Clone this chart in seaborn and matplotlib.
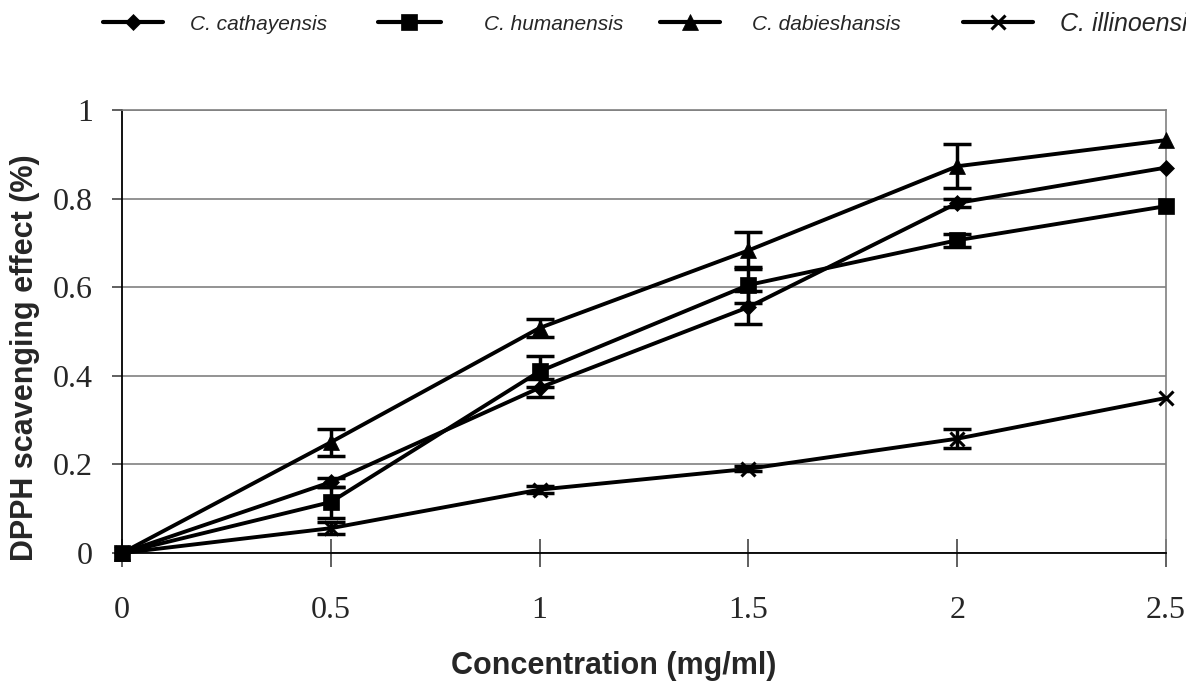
import matplotlib
matplotlib.use("Agg")
import matplotlib.pyplot as plt
from matplotlib.lines import Line2D
import numpy as np
import pandas as pd
import seaborn as sns

# concentration (mg/ml)
conc = [0, 0.5, 1.0, 1.5, 2.0, 2.5]

species = ["C. cathayensis", "C. humanensis", "C. dabieshansis", "C. illinoensi"]

cathayensis = [0, 0.160, 0.373, 0.555, 0.790, 0.870]
humanensis = [0, 0.115, 0.410, 0.605, 0.706, 0.783]
dabieshansis = [0, 0.250, 0.508, 0.683, 0.873, 0.932]
illinoensis = [0, 0.056, 0.143, 0.190, 0.258, 0.350]

cathayensis_err = [0, 0.010, 0.020, 0.037, 0.008, 0]
humanensis_err = [0, 0.035, 0.035, 0.040, 0.015, 0]
dabieshansis_err = [0, 0.030, 0.020, 0.042, 0.050, 0]
illinoensis_err = [0, 0.013, 0.008, 0.006, 0.022, 0]

values = [cathayensis, humanensis, dabieshansis, illinoensis]
errors = [cathayensis_err, humanensis_err, dabieshansis_err, illinoensis_err]

markers = {"C. cathayensis": "D", "C. humanensis": "s",
           "C. dabieshansis": "^", "C. illinoensi": "x"}
msizes = {"C. cathayensis": 8, "C. humanensis": 11,
          "C. dabieshansis": 11, "C. illinoensi": 10}

df = pd.concat([pd.DataFrame({"conc": conc, "effect": v, "err": e, "species": s})
                for s, v, e in zip(species, values, errors)], ignore_index=True)

sns.set_style("white")
plt.rcParams["font.family"] = ["Liberation Sans", "DejaVu Sans"]

fig = plt.figure(figsize=(11.86, 6.83), dpi=100)
ax = fig.add_axes([122 / 1186, 130 / 683, 1044 / 1186, 443 / 683])

# error bars first, lines/markers on top
for s in species:
    d = df[(df.species == s) & (df.err > 0)]
    ax.errorbar(d.conc, d.effect, yerr=d.err, fmt="none", ecolor="black",
                elinewidth=2.5, capsize=10, capthick=2.5, zorder=3)

for s in species:
    d = df[df.species == s]
    sns.lineplot(data=d, x="conc", y="effect", color="black", lw=2.8,
                 marker=markers[s], markersize=msizes[s],
                 markeredgewidth=2.2 if s == "C. illinoensi" else 0.5,
                 markeredgecolor="black", markerfacecolor="black",
                 ax=ax, legend=False, zorder=4, clip_on=False)

ax.set_xlim(0, 2.5)
ax.set_ylim(0, 1)
ax.set_xticks([0, 0.5, 1, 1.5, 2, 2.5])
ax.set_xticklabels(["0", "0.5", "1", "1.5", "2", "2.5"])
ax.set_yticks([0, 0.2, 0.4, 0.6, 0.8, 1.0])
ax.set_yticklabels(["0", "0.2", "0.4", "0.6", "0.8", "1"])

ax.yaxis.grid(True, color="#808080", lw=1.2)
ax.xaxis.grid(False)
for side in ["left", "bottom"]:
    ax.spines[side].set_color("black")
    ax.spines[side].set_linewidth(1.3)
for side in ["top", "right"]:
    ax.spines[side].set_color("#808080")
    ax.spines[side].set_linewidth(1.2)

ax.tick_params(axis="x", direction="inout", length=20, width=1.2, color="#444444",
               pad=21, bottom=True)
ax.tick_params(axis="y", direction="out", length=7, width=1.2, color="#444444",
               pad=14, left=True)
for lab in ax.get_xticklabels() + ax.get_yticklabels():
    lab.set_family("Liberation Serif")
    lab.set_fontsize(23)

ax.set_xlabel("Concentration (mg/ml)", fontsize=22, fontweight="bold")
ax.set_ylabel("DPPH scavenging effect (%)", fontsize=22, fontweight="bold")
ax.xaxis.set_label_coords(0.471, -0.222)
ax.yaxis.set_label_coords(-0.079, 0.442)

# legend across the top, one entry at a time
leg_x = [103, 378, 660, 963]
leg_fs = [15, 15, 15, 18]
leg_hl = [2.9, 3.0, 2.9, 2.8]
leg_pad = [1.3, 2.1, 1.5, 1.1]
for s, x, fs, hl, pad in zip(species, leg_x, leg_fs, leg_hl, leg_pad):
    h = Line2D([], [], color="black", lw=3, marker=markers[s], markersize=msizes[s],
               markeredgewidth=2.2 if s == "C. illinoensi" else 0.5,
               markerfacecolor="black", markeredgecolor="black")
    fig.legend(handles=[h], labels=[s], loc="center left",
               bbox_to_anchor=(x / 1186, 1 - 24 / 683), frameon=False,
               borderpad=0, borderaxespad=0, handlelength=hl,
               handletextpad=pad, prop={"size": fs, "style": "italic"})

fig.savefig("out.png", dpi=100)
